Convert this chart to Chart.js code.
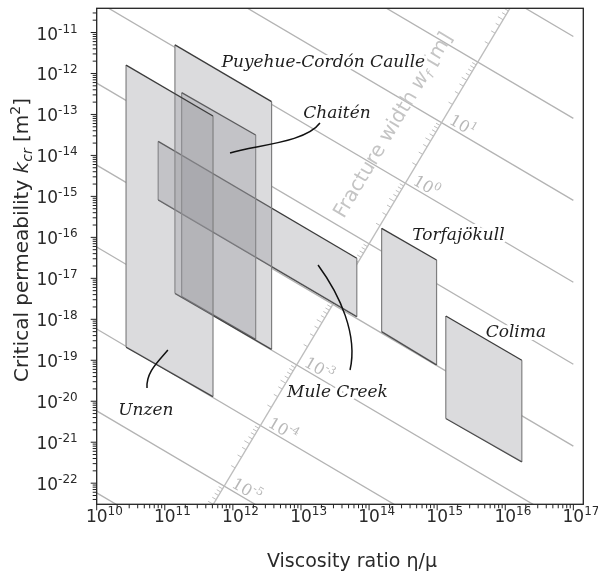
<!DOCTYPE html>
<html>
<head>
<meta charset="utf-8">
<title>Critical permeability vs viscosity ratio</title>
<script src="https://cdn.jsdelivr.net/npm/chart.js@4.4.1/dist/chart.umd.min.js"></script>
<style>
  html, body { margin: 0; padding: 0; background: #ffffff; }
  canvas { display: block; }
</style>
</head>
<body>
<canvas id="chart" width="598" height="573"></canvas>
<script>
// ---- axis ranges and tick labels ----
const xLimits = [1e10, 1.4e17];
const yLimits = [3.05e-23, 3.9e-11];
const xTickExponents = [10, 11, 12, 13, 14, 15, 16, 17];
const yTickExponents = [-11, -12, -13, -14, -15, -16, -17, -18, -19, -20, -21, -22];

// ---- eruption fields: viscosity-ratio span and permeability at the four corners ----
const regionNames = ['Unzen', 'Puyehue-Cordón Caulle', 'Chaitén', 'Mule Creek', 'Torfajökull', 'Colima'];
const regionRatioMin = [2.7e10, 1.41e11, 1.77e11, 8.0e10, 1.53e14, 1.34e15];
const regionRatioMax = [5.1e11, 3.7e12, 2.16e12, 6.6e13, 9.8e14, 1.75e16];
const regionKTopLeft = [1.6e-12, 5.0e-12, 3.4e-13, 2.2e-14, 1.66e-16, 1.2e-18];
const regionKTopRight = [9.2e-14, 2.05e-13, 3.15e-14, 3.1e-17, 2.8e-17, 1.0e-19];
const regionKBottomRight = [1.3e-20, 1.85e-19, 3.25e-19, 1.16e-18, 7.7e-20, 3.3e-22];
const regionKBottomLeft = [2.1e-19, 4.3e-18, 3.6e-18, 8.2e-16, 5.0e-19, 3.8e-21];

// ---- fracture-width contours (w = 10^n m): permeability at eta/mu = 1e10 and 1e17 ----
const contourRatio = [1e10, 1e17];
const widthExponents = [3, 2, 1, 0, -1, -2, -3, -4, -5, -6];
const contourKStart = [5.8e-5, 5.8e-7, 5.8e-9, 5.8e-11, 5.8e-13, 5.8e-15, 5.8e-17, 5.8e-19, 5.8e-21, 5.8e-23];
const contourKEnd = [8.0e-12, 8.0e-14, 8.0e-16, 8.0e-18, 8.0e-20, 8.0e-22, 8.0e-24, 8.0e-26, 8.0e-28, 8.0e-30];
const labelledWidths = [1, 0, -3, -4, -5];

// ---- fracture-width scale bar (end points) ----
const widthAxisRatio = [5.15e11, 1.17e16];
const widthAxisK = [3.05e-23, 3.9e-11];

// ---- annotation placement (label centre / baseline, in data units) ----
const labelRatio = [5.26e10, 2.13e13, 3.38e13, 3.44e13, 2.05e15, 1.43e16];
const labelK = [4.6e-21, 1.44e-12, 8.05e-14, 1.29e-20, 8.6e-17, 3.63e-19];
const widthTitleAt = { x: 2.25e14, y: 5.52e-14 };

// leader curves (cubic Bezier control points, data units)
const leaders = {
  'Chaitén': [[9.08e11, 1.15e-14], [2.11e12, 1.8e-14], [1.15e13, 2.01e-14], [1.9e13, 6.18e-14]],
  'Mule Creek': [[1.78e13, 2.11e-17], [3.74e13, 3.92e-18], [6.89e13, 4.14e-19], [5.25e13, 5.78e-20]],
  'Unzen': [[1.11e11, 1.78e-19], [7.94e10, 9.08e-20], [5.3e10, 5.16e-20], [5.48e10, 2.1e-20]]
};

const SANS = '"DejaVu Sans", "Liberation Sans", sans-serif';
const SERIF = '"DejaVu Serif", "Liberation Serif", serif';
const EDGE_DARK = '#3c3c3c';
const EDGE_SIDE = '#7c7c7c';
const FIELD_FILL = 'rgba(152,152,158,0.35)';

// ---------- datasets ----------
const datasets = [];
widthExponents.forEach((e, i) => {
  datasets.push({
    label: 'w=1e' + e,
    data: [{ x: contourRatio[0], y: contourKStart[i] }, { x: contourRatio[1], y: contourKEnd[i] }],
    showLine: true, borderColor: '#b3b3b3', borderWidth: 1.3, pointRadius: 0, fill: false, order: 10
  });
});
datasets.push({
  label: 'Fracture axis',
  data: [{ x: widthAxisRatio[0], y: widthAxisK[0] }, { x: widthAxisRatio[1], y: widthAxisK[1] }],
  showLine: true, borderColor: '#bdbdbd', borderWidth: 1.3, pointRadius: 0, fill: false, order: 9
});

// each field: upper edge filled down to its lower edge
function topEdge(i) {
  return [{ x: regionRatioMin[i], y: regionKTopLeft[i] }, { x: regionRatioMax[i], y: regionKTopRight[i] }];
}
function bottomEdge(i) {
  return [{ x: regionRatioMin[i], y: regionKBottomLeft[i] }, { x: regionRatioMax[i], y: regionKBottomRight[i] }];
}
regionNames.forEach((n, i) => {
  // opaque white backing so contour lines do not show through the fields
  datasets.push({
    label: n + ' backing top', data: topEdge(i), showLine: true, pointRadius: 0,
    borderWidth: 0, borderColor: 'rgba(0,0,0,0)', backgroundColor: '#ffffff', fill: '+1', order: 5
  });
  datasets.push({
    label: n + ' backing bottom', data: bottomEdge(i), showLine: true, pointRadius: 0,
    borderWidth: 0, borderColor: 'rgba(0,0,0,0)', fill: false, order: 5
  });
});
regionNames.forEach((n, i) => {
  datasets.push({
    label: n, data: topEdge(i), showLine: true, pointRadius: 0,
    borderWidth: 1.3, borderColor: EDGE_DARK, backgroundColor: FIELD_FILL, fill: '+1', order: 1
  });
  datasets.push({
    label: n + ' lower edge', data: bottomEdge(i), showLine: true, pointRadius: 0,
    borderWidth: 1.3, borderColor: EDGE_DARK, fill: false, order: 1
  });
  datasets.push({
    label: n + ' left edge', showLine: true, pointRadius: 0, borderWidth: 1.2, borderColor: EDGE_SIDE, fill: false, order: 1,
    data: [{ x: regionRatioMin[i], y: regionKTopLeft[i] }, { x: regionRatioMin[i], y: regionKBottomLeft[i] }]
  });
  datasets.push({
    label: n + ' right edge', showLine: true, pointRadius: 0, borderWidth: 1.2, borderColor: EDGE_SIDE, fill: false, order: 1,
    data: [{ x: regionRatioMax[i], y: regionKTopRight[i] }, { x: regionRatioMax[i], y: regionKBottomRight[i] }]
  });
});

// ---------- drawing helpers ----------
function richWidth(ctx, parts) {
  let w = 0;
  parts.forEach(p => { ctx.font = p.f; w += ctx.measureText(p.t).width; });
  return w;
}
function drawRich(ctx, parts, x, y, align) {
  const w = richWidth(ctx, parts);
  let cx = align === 'center' ? x - w / 2 : align === 'right' ? x - w : x;
  ctx.textAlign = 'left';
  ctx.textBaseline = 'alphabetic';
  parts.forEach(p => {
    ctx.font = p.f;
    ctx.fillText(p.t, cx, y + (p.dy || 0));
    cx += ctx.measureText(p.t).width;
  });
}
function powParts(exp, size, supSize) {
  return [
    { t: '10', f: size + 'px ' + SANS },
    { t: String(exp), f: supSize + 'px ' + SANS, dy: -7 }
  ];
}
function toPx(chart, x, y) {
  return { x: chart.scales.x.getPixelForValue(x), y: chart.scales.y.getPixelForValue(y) };
}
function intersect(p1, p2, p3, p4) {
  const d = (p1.x - p2.x) * (p3.y - p4.y) - (p1.y - p2.y) * (p3.x - p4.x);
  const a = p1.x * p2.y - p1.y * p2.x, b = p3.x * p4.y - p3.y * p4.x;
  return { x: (a * (p3.x - p4.x) - (p1.x - p2.x) * b) / d, y: (a * (p3.y - p4.y) - (p1.y - p2.y) * b) / d };
}

// width scale bar decorations and field names (drawn beneath the fields)
function drawWidthScale(chart) {
  const ctx = chart.ctx, area = chart.chartArea;
  const P = toPx(chart, widthAxisRatio[0], widthAxisK[0]);
  const Q = toPx(chart, widthAxisRatio[1], widthAxisK[1]);
  const A = contourKStart.map(k => toPx(chart, contourRatio[0], k));
  const B = contourKEnd.map(k => toPx(chart, contourRatio[1], k));
  const dx = B[0].x - A[0].x, dy = B[0].y - A[0].y, dl = Math.hypot(dx, dy);
  const d = { x: dx / dl, y: dy / dl };
  const ang = Math.atan2(d.y, d.x);

  ctx.save();
  ctx.beginPath();
  ctx.rect(area.left, area.top, area.right - area.left, area.bottom - area.top);
  ctx.clip();

  // minor ticks (2..9 within each decade of width)
  ctx.strokeStyle = '#bdbdbd';
  ctx.lineWidth = 1;
  for (let i = 1; i < widthExponents.length; i++) {
    for (let m = 2; m <= 9; m++) {
      const f = Math.log10(m);
      const a = { x: A[i].x + (A[i - 1].x - A[i].x) * f, y: A[i].y + (A[i - 1].y - A[i].y) * f };
      const b = { x: B[i].x + (B[i - 1].x - B[i].x) * f, y: B[i].y + (B[i - 1].y - B[i].y) * f };
      const I = intersect(a, b, P, Q);
      const len = m === 5 ? 6 : 4.5;
      ctx.beginPath();
      ctx.moveTo(I.x, I.y);
      ctx.lineTo(I.x - d.x * len, I.y - d.y * len);
      ctx.stroke();
    }
  }

  // width labels along the scale bar
  ctx.fillStyle = '#b8b8b8';
  labelledWidths.forEach(e => {
    const i = widthExponents.indexOf(e);
    const I = intersect(A[i], B[i], P, Q);
    const up = { x: Math.sin(ang), y: -Math.cos(ang) };
    const ox = I.x + d.x * 6 + up.x * 3, oy = I.y + d.y * 6 + up.y * 3;
    ctx.save();
    ctx.translate(ox, oy);
    ctx.rotate(ang);
    drawRich(ctx, [
      { t: '10', f: '16px ' + SERIF },
      { t: String(e), f: '11px ' + SERIF, dy: -7 }
    ], 0, 0, 'left');
    ctx.restore();
  });

  // scale bar title
  const T = toPx(chart, widthTitleAt.x, widthTitleAt.y);
  const axAng = Math.atan2(Q.y - P.y, Q.x - P.x);
  ctx.save();
  ctx.translate(T.x, T.y);
  ctx.rotate(axAng);
  ctx.fillStyle = '#c4c4c4';
  drawRich(ctx, [
    { t: 'Fracture width ', f: '20px ' + SANS },
    { t: 'w', f: 'italic 20px ' + SANS },
    { t: 'f', f: 'italic 13px ' + SANS, dy: 4 },
    { t: ' [m]', f: '20px ' + SANS }
  ], 0, 6, 'center');
  ctx.restore();
  ctx.restore();

  // field names with a white halo
  ctx.save();
  ctx.font = 'italic 17px ' + SERIF;
  ctx.textAlign = 'center';
  ctx.textBaseline = 'alphabetic';
  ctx.lineJoin = 'round';
  regionNames.forEach((n, i) => {
    const p = toPx(chart, labelRatio[i], labelK[i]);
    ctx.strokeStyle = '#ffffff';
    ctx.lineWidth = 6;
    ctx.strokeText(n, p.x, p.y);
    ctx.fillStyle = '#1e1e1e';
    ctx.fillText(n, p.x, p.y);
  });
  ctx.restore();
}

function drawFrame(chart) {
  const ctx = chart.ctx, area = chart.chartArea;
  const xs = chart.scales.x, ys = chart.scales.y;
  ctx.save();

  // leader lines
  ctx.strokeStyle = '#111111';
  ctx.lineWidth = 1.5;
  Object.keys(leaders).forEach(k => {
    const c = leaders[k].map(p => toPx(chart, p[0], p[1]));
    ctx.beginPath();
    ctx.moveTo(c[0].x, c[0].y);
    ctx.bezierCurveTo(c[1].x, c[1].y, c[2].x, c[2].y, c[3].x, c[3].y);
    ctx.stroke();
  });

  // plot frame
  ctx.strokeStyle = '#222222';
  ctx.lineWidth = 1.3;
  ctx.strokeRect(area.left, area.top, area.right - area.left, area.bottom - area.top);

  // tick marks
  ctx.lineWidth = 1;
  for (let e = 10; e <= 17; e++) {
    for (let m = 1; m <= 9; m++) {
      const v = m * Math.pow(10, e);
      if (v < xLimits[0] * 0.999 || v > xLimits[1]) continue;
      const x = xs.getPixelForValue(v);
      const len = m === 1 ? 6 : 4;
      ctx.beginPath(); ctx.moveTo(x, area.bottom); ctx.lineTo(x, area.bottom + len); ctx.stroke();
    }
  }
  for (let e = -23; e <= -11; e++) {
    for (let m = 1; m <= 9; m++) {
      const v = m * Math.pow(10, e);
      if (v < yLimits[0] || v > yLimits[1]) continue;
      const y = ys.getPixelForValue(v);
      const len = m === 1 ? 6 : 4;
      ctx.beginPath(); ctx.moveTo(area.left, y); ctx.lineTo(area.left - len, y); ctx.stroke();
    }
  }

  // tick labels
  ctx.fillStyle = '#2a2a2a';
  xTickExponents.forEach(e => {
    const x = xs.getPixelForValue(Math.pow(10, e));
    ctx.font = '17px ' + SANS;
    const bw = ctx.measureText('10').width;
    drawRich(ctx, powParts(e, 17, 12), x - bw / 2, area.bottom + 18, 'left');
  });
  yTickExponents.forEach(e => {
    const y = ys.getPixelForValue(Math.pow(10, e));
    drawRich(ctx, powParts(e, 17, 12), area.left - 19, y + 7, 'right');
  });

  // axis titles
  ctx.fillStyle = '#2a2a2a';
  drawRich(ctx, [{ t: 'Viscosity ratio η/μ', f: '19px ' + SANS }], 352, 567, 'center');
  ctx.save();
  ctx.translate(28, 240);
  ctx.rotate(-Math.PI / 2);
  drawRich(ctx, [
    { t: 'Critical permeability ', f: '20px ' + SANS },
    { t: 'k', f: 'italic 20px ' + SANS },
    { t: 'cr', f: 'italic 14px ' + SANS, dy: 4 },
    { t: ' [m', f: '20px ' + SANS },
    { t: '2', f: '14px ' + SANS, dy: -8 },
    { t: ']', f: '20px ' + SANS }
  ], 0, 0, 'center');
  ctx.restore();
  ctx.restore();
}

const decorations = {
  id: 'decorations',
  afterDatasetDraw(chart, args) {
    if (chart.data.datasets[args.index].label === 'Fracture axis') drawWidthScale(chart);
  },
  afterDatasetsDraw(chart) { drawFrame(chart); }
};

const chart = new Chart(document.getElementById('chart'), {
  type: 'scatter',
  data: { datasets },
  options: {
    responsive: false,
    animation: false,
    events: [],
    layout: { padding: { left: 96.7, top: 8.3, right: 14.7, bottom: 68.7 } },
    scales: {
      x: { type: 'logarithmic', min: xLimits[0], max: xLimits[1], display: false },
      y: { type: 'logarithmic', min: yLimits[0], max: yLimits[1], display: false }
    },
    elements: { line: { tension: 0 }, point: { radius: 0 } },
    plugins: { legend: { display: false }, tooltip: { enabled: false } }
  },
  plugins: [decorations]
});
</script>
</body>
</html>
